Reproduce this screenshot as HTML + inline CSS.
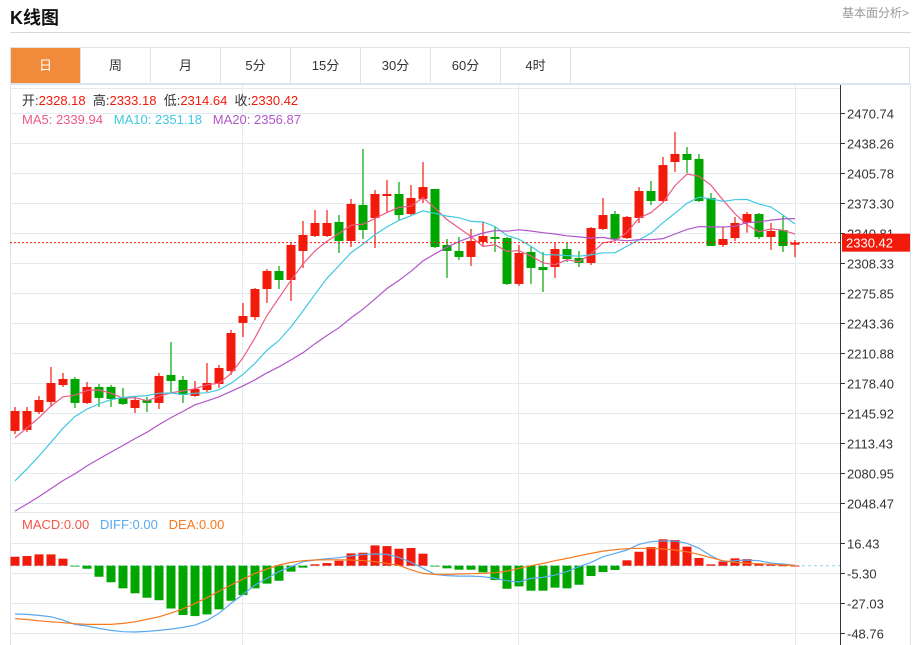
<!DOCTYPE html>
<html><head><meta charset="utf-8"><style>
body{margin:0;width:919px;height:645px;overflow:hidden;background:#fff;font-family:"Liberation Sans","Noto Sans CJK SC",sans-serif;position:relative}
.t{position:absolute;white-space:nowrap}
#title{left:10px;top:4px;font-size:18px;font-weight:bold;color:#111}
#hr{position:absolute;left:10px;top:32px;width:901px;height:1px;background:#d8d8d8}
#fa{right:10px;top:4px;font-size:12px;color:#999}
#tabs{position:absolute;left:10px;top:47px;width:900px;height:37px;border:1px solid #dde3ea;box-sizing:border-box;display:flex}
.tab{width:70px;height:35px;line-height:35px;text-align:center;font-size:13px;color:#333;border-right:1px solid #dde3ea;box-sizing:border-box}
.tab.on{background:#f18a3b;color:#fff}
</style></head><body>
<div id="title" class="t">K线图</div>
<div id="fa" class="t">基本面分析&gt;</div>
<div id="hr"></div>
<div id="tabs">
<div class="tab on">日</div>
<div class="tab">周</div>
<div class="tab">月</div>
<div class="tab">5分</div>
<div class="tab">15分</div>
<div class="tab">30分</div>
<div class="tab">60分</div>
<div class="tab">4时</div>
</div>
<svg id="c" width="919" height="645" style="position:absolute;left:0;top:0"></svg>
<script>
const opens=[2126.6,2127.7,2147.1,2158.0,2176.3,2182.8,2156.9,2174.2,2174.2,2162.3,2151.4,2160.1,2156.9,2187.2,2181.8,2164.5,2170.9,2177.4,2191.5,2243.5,2249.9,2280.2,2299.7,2290.0,2321.4,2337.6,2337.6,2352.8,2332.2,2371.2,2357.1,2380.9,2383.1,2361.4,2377.7,2388.5,2327.9,2321.4,2314.9,2331.1,2336.5,2335.4,2285.7,2320.3,2304.0,2304.0,2323.5,2313.8,2308.4,2345.2,2361.4,2335.4,2357.1,2386.3,2375.5,2417.7,2426.4,2421.0,2378.8,2327.9,2335.4,2351.7,2361.4,2336.5,2344.1,2328.18];
const highs=[2152.5,2152.5,2164.4,2195.8,2189.3,2185.0,2179.6,2177.4,2176.3,2173.1,2163.3,2163.3,2189.3,2222.9,2186.1,2180.7,2200.2,2198.0,2235.9,2265.1,2281.3,2301.9,2305.1,2330.1,2353.9,2365.8,2365.8,2360.3,2377.7,2431.8,2387.4,2398.2,2396.1,2392.8,2417.7,2388.5,2334.4,2336.5,2345.2,2352.8,2347.3,2336.5,2327.9,2325.7,2320.3,2331.1,2330.0,2321.4,2347.3,2378.8,2364.7,2359.3,2390.6,2397.1,2423.1,2450.2,2433.9,2426.4,2384.2,2347.3,2358.2,2363.6,2362.5,2351.7,2359.3,2333.18];
const lows=[2123.3,2125.5,2145.0,2152.5,2174.2,2151.4,2155.8,2152.5,2152.5,2154.7,2146.0,2147.1,2150.4,2167.7,2156.9,2163.4,2168.8,2173.1,2187.2,2228.3,2246.7,2265.1,2280.2,2267.3,2303.0,2336.5,2336.5,2319.2,2325.7,2334.4,2324.6,2363.6,2354.9,2360.3,2373.3,2324.6,2292.2,2311.6,2305.1,2325.7,2320.3,2284.6,2283.5,2285.7,2277.0,2292.2,2309.5,2304.0,2306.2,2344.1,2332.2,2334.4,2351.7,2371.2,2374.4,2406.9,2405.8,2374.4,2326.8,2325.7,2332.2,2341.2,2334.4,2322.5,2320.3,2314.64];
const closes=[2148.2,2148.2,2160.1,2178.5,2182.8,2156.9,2174.2,2162.3,2161.2,2155.8,2160.1,2156.9,2186.1,2180.7,2165.6,2172.0,2178.5,2194.7,2232.6,2251.0,2280.2,2299.7,2290.0,2327.9,2338.7,2351.7,2351.7,2332.2,2372.3,2344.1,2383.1,2383.1,2360.3,2378.8,2390.6,2325.7,2321.4,2314.9,2332.2,2337.6,2334.4,2285.7,2319.2,2303.0,2300.8,2323.5,2312.7,2308.4,2346.3,2360.3,2334.4,2358.2,2386.3,2375.5,2414.4,2426.4,2419.9,2375.5,2326.8,2334.4,2351.7,2361.4,2336.5,2343.0,2326.8,2330.42];
const priorCloses=[1995,2000,2005,2010,2008,2004,2010,2015,2012,2011,2018,2022,2030,2030,2030,2095,2105,2115,2133];
const macdHist=[6.5,7.0,8.2,8.2,5.1,-0.5,-2.2,-8.0,-12,-16.4,-20,-23.2,-25,-31,-35.7,-36.5,-35.3,-31.6,-25.4,-21.3,-16.4,-13,-10.9,-4.3,-1.4,1,1.9,3.6,8.9,9.4,14.7,14.2,12.3,12.8,8.7,-0.5,-1.9,-2.9,-2.9,-4.8,-10.4,-16.7,-15,-18.1,-18.1,-15.9,-16.4,-13.8,-7.5,-4.6,-3.1,3.9,10.1,13.5,19.1,18.6,13.8,5.6,1,3.1,5.3,4.8,1.7,1.2,0.2,0];
const diffVals=[-35,-35.3,-36,-37,-39.4,-42.5,-43.7,-45.4,-46.9,-47.8,-48,-47.6,-46.9,-45.9,-44.7,-43,-39.6,-34.5,-27.3,-20.8,-14,-9.2,-4.3,-0.7,2.9,4.1,5.1,5.8,7.2,8.2,8.5,8.2,6,2.5,-1.9,-6.3,-7.2,-7.5,-7.5,-8,-9.2,-10.9,-11.8,-9.2,-8.5,-6.8,-4.3,-0.7,2.4,6.5,8.9,11.4,15.5,17.4,17.9,17.9,16.2,12.6,7.2,2.9,3.6,4.1,3.6,1.9,1.2,0.2];
const deaVals=[-38.4,-39,-39.9,-40.6,-41.3,-42,-42.5,-42.5,-42.5,-41.8,-40.6,-38.9,-37,-34.3,-31.2,-27.3,-23.2,-18.4,-14,-9.7,-5.6,-2.4,0.5,2.4,3.6,4.1,4.3,4.3,4.1,3.6,2.9,1.7,0.2,-3,-5.6,-6.3,-6.3,-6,-5.8,-5.6,-5.1,-3.9,-1.9,0,1.7,3.6,5.3,7.2,8.9,10.6,11.6,12.3,12.6,12.6,12.1,11.4,10.1,8.2,5.8,3.6,2.4,1.9,1.4,1,0.5,0.2];
const priceTicks=["2470.74","2438.26","2405.78","2373.30","2340.81","2308.33","2275.85","2243.36","2210.88","2178.40","2145.92","2113.43","2080.95","2048.47"];
const macdTicks=["16.43","-5.30","-27.03","-48.76"];
const lastPrice=2330.42;

const NS="http://www.w3.org/2000/svg",svg=document.getElementById('c');
function mk(tag,attrs,parent){const e=document.createElementNS(NS,tag);for(const k in attrs)e.setAttribute(k,attrs[k]);(parent||svg).appendChild(e);return e;}
const RED="#f21a0a",GRN="#00a600";
const xOf=i=>15+i*12;
const yP=p=>113+(2470.74-p)/32.4733*30;
const yM=v=>565.7-v*30/21.73;
// frame & grid
let e=mk('rect',{x:10.5,y:84.5,width:900,height:570,fill:'none',stroke:'#dde3ea'});


[242,518,795].forEach(x=>{const g=mk('line',{x1:x+.5,x2:x+.5,y1:85,y2:645,stroke:'#e3eaf0'});

});
priceTicks.forEach(t=>{const y=Math.round(yP(+t))+.5;
const g=mk('line',{x1:10,x2:840,y1:y,y2:y,stroke:'#e3eaf0'});


mk('line',{x1:840,x2:845,y1:y,y2:y,stroke:'#333'});
const tx=mk('text',{x:847,y:y+5,'font-size':13,fill:'#333'});tx.textContent=t;

});
mk('line',{x1:10,x2:840,y1:88.5,y2:88.5,stroke:'#e3eaf0'});
mk('line',{x1:10,x2:840,y1:512.5,y2:512.5,stroke:'#e3eaf0'});
macdTicks.forEach(t=>{const y=Math.round(yM(+t))+.5;
const g=mk('line',{x1:10,x2:840,y1:y,y2:y,stroke:'#e3eaf0'});


mk('line',{x1:840,x2:845,y1:y,y2:y,stroke:'#333'});
const tx=mk('text',{x:847,y:y+5,'font-size':13,fill:'#333'});tx.textContent=t;

});
e=mk('line',{x1:840.5,x2:840.5,y1:85,y2:645,stroke:'#333'});


// MACD zero dashed
mk('line',{x1:10,x2:840,y1:yM(0),y2:yM(0),stroke:'#8fd3ea','stroke-dasharray':'3,3'});
// MACD bars
macdHist.forEach((v,i)=>{const y0=yM(0),y1=yM(v);
const r=mk('rect',{x:xOf(i)-4.5,y:Math.min(y0,y1),width:9,height:Math.max(Math.abs(y1-y0),0.8),fill:v>=0?RED:GRN});

});
function line(vals,yf,col,name){const d=vals.map((v,i)=>(i?'L':'M')+xOf(i)+','+yf(v).toFixed(1)).join('');
const p=mk('path',{d:d,fill:'none',stroke:col,'stroke-width':1.2});

}
line(diffVals,yM,'#5aa9ee','diff-line');
line(deaVals,yM,'#f5781e','dea-line');
// candles
closes.forEach((c,i)=>{const o=opens[i],up=c>=o,col=up?RED:GRN,x=xOf(i);
const g=mk('g',{});


mk('line',{x1:x,x2:x,y1:yP(highs[i]),y2:yP(lows[i]),stroke:col,'stroke-width':1.2},g);
const top=yP(Math.max(o,c)),bot=yP(Math.min(o,c));
mk('rect',{x:x-4.5,y:top,width:9,height:Math.max(bot-top,1.2),fill:col},g);});
// moving averages
const all=priorCloses.concat(closes);
function ma(n){return closes.map((_,i)=>{let s=0;const j=i+priorCloses.length;for(let k=j-n+1;k<=j;k++)s+=all[k];return s/n;});}
line(ma(5),yP,'#ec5a84','ma5-line');
line(ma(10),yP,'#40c8e0','ma10-line');
line(ma(20),yP,'#b257c9','ma20-line');
// last price
const ly=yP(lastPrice);
e=mk('line',{x1:10,x2:840,y1:ly,y2:ly,stroke:RED,'stroke-dasharray':'2,2'});


e=mk('rect',{x:842,y:ly-9,width:68,height:18,fill:RED});


e=mk('text',{x:846,y:ly+5,'font-size':13,fill:'#fff'});e.textContent=lastPrice.toFixed(2);
// legends
function lg(x,y,parts,name){const t=mk('text',{x:x,y:y,'font-size':13});


parts.forEach(p=>{const s=mk('tspan',{fill:p[1]},t);s.textContent=p[0];});}
lg(22,105,[["开:","#333"],["2328.18  ",RED],["高:","#333"],["2333.18  ",RED],["低:","#333"],["2314.64  ",RED],["收:","#333"],["2330.42",RED]],'ohlc-legend');
lg(22,124,[["MA5: 2339.94   ","#ec5a84"],["MA10: 2351.18   ","#40c8e0"],["MA20: 2356.87","#b257c9"]],'ma-legend');
lg(22,529,[["MACD:0.00   ","#f0584a"],["DIFF:0.00   ","#5aa9ee"],["DEA:0.00","#f5781e"]],'macd-legend');
document.querySelectorAll('tspan').forEach(s=>s.setAttribute('xml:space','preserve'));
document.querySelectorAll('svg text').forEach(s=>s.setAttribute('style','white-space:pre'));
</script>
</body></html>
